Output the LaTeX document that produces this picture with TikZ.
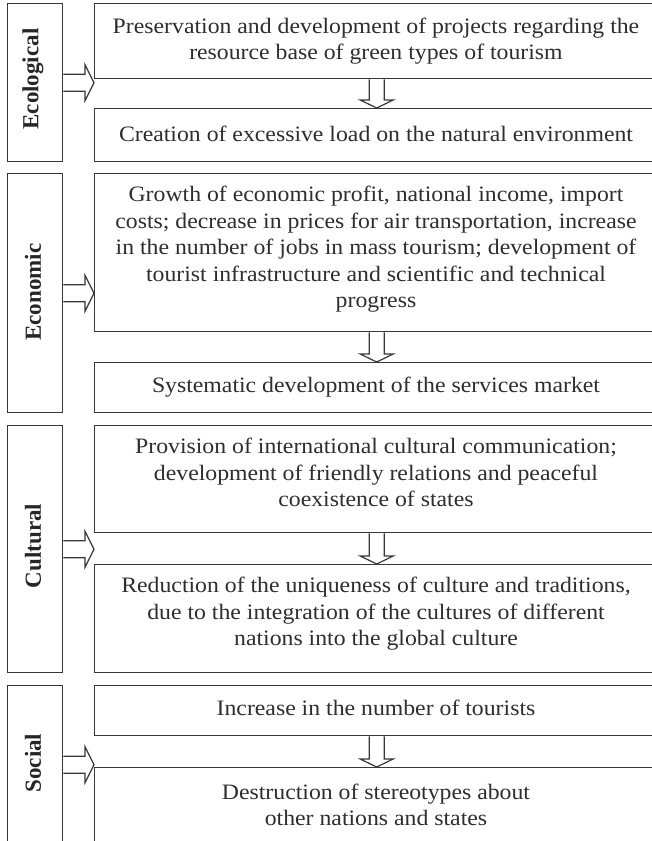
\documentclass[tikz,border=0pt]{standalone}
\usepackage{fontspec}
\setmainfont{Liberation Serif}
\newfontfamily\bodyfont[FakeStretch=1.08]{Liberation Serif}
\usetikzlibrary{calc}
\newcommand\rblock[2]{%
  \draw[barrow] ($(#1)+(0,-8.5)$) -- ($(#2)+(-9,-8.5)$) -- ($(#2)+(-9,-18)$) -- (#2)
    -- ($(#2)+(-9,18)$) -- ($(#2)+(-9,8.5)$) -- ($(#1)+(0,8.5)$);}
\newcommand\dblock[2]{%
  \draw[barrow] ($(#1)+(-7.5,0)$) -- ($(#2)+(-7.5,-8)$) -- ($(#2)+(-16.5,-8)$) -- (#2)
    -- ($(#2)+(16.5,-8)$) -- ($(#2)+(7.5,-8)$) -- ($(#1)+(7.5,0)$);}
\begin{document}
\begin{tikzpicture}[x=1pt,y=-1pt,
  box/.style={draw=black!78, line width=1.4pt, rectangle, inner sep=0, anchor=north west},
  txt/.style={font=\bodyfont\fontsize{22}{26.5}\selectfont, align=center, text=black!82, inner sep=0},
  lab/.style={font=\fontsize{23}{27}\selectfont\bfseries, rotate=90, text=black!85, inner sep=0},
  barrow/.style={draw=black!78, line width=1.2pt, fill=white, line join=miter}]
\useasboundingbox (0,0) rectangle (652,841);
\fill[white] (0,0) rectangle (652,841);
\begin{scope}
\clip (0,0) rectangle (652,841);
% label boxes
\node[box, minimum width=55pt, minimum height=158pt] (L1) at (7,3) {};
\node[box, minimum width=55pt, minimum height=239pt] (L2) at (7,173) {};
\node[box, minimum width=55pt, minimum height=247pt] (L3) at (7,425) {};
\node[box, minimum width=55pt, minimum height=158pt] (L4) at (7,685) {};
% content boxes
\node[box, minimum width=564pt, minimum height=75pt]  (B1) at (94,3) {};
\node[box, minimum width=564pt, minimum height=53pt]  (B2) at (94,108) {};
\node[box, minimum width=564pt, minimum height=158pt] (B3) at (94,173) {};
\node[box, minimum width=564pt, minimum height=50pt]  (B4) at (94,362) {};
\node[box, minimum width=564pt, minimum height=107pt] (B5) at (94,425) {};
\node[box, minimum width=564pt, minimum height=108pt] (B6) at (94,564) {};
\node[box, minimum width=564pt, minimum height=50pt]  (B7) at (94,685) {};
\node[box, minimum width=564pt, minimum height=83pt]  (B8) at (94,767) {};
% labels
\node[lab] (t1) at (33,79) {Ecological};
\node[lab] (t2) at (33,292) {Economic};
\node[lab] (t3) at (33,546) {Cultural};
\node[lab] (t4) at (33,763) {Social};
% texts
\node[txt] (x1) at (376,41) {Preservation and development of projects regarding the\\resource base of green types of tourism};
\node[txt] (x2) at (376,134) {Creation of excessive load on the natural environment};
\node[txt] (x3) at (376,249.5) {Growth of economic profit, national income, import\\costs; decrease in prices for air transportation, increase\\in the number of jobs in mass tourism; development of\\tourist infrastructure and scientific and technical\\progress};
\node[txt] (x4) at (376,387) {Systematic development of the services market};
\node[txt] (x5) at (376,472.5) {Provision of international cultural communication;\\development of friendly relations and peaceful\\coexistence of states};
\node[txt] (x6) at (376,614) {Reduction of the uniqueness of culture and traditions,\\due to the integration of the cultures of different\\nations into the global culture};
\node[txt] (x7) at (376,708) {Increase in the number of tourists};
\node[txt] (x8) at (376,805) {Destruction of stereotypes about\\other nations and states};
% connectors
\coordinate (e1) at (B1.west |- L1.east);
\coordinate (e2) at (B3.west |- L2.east);
\coordinate (e3) at (B5.west |- L3.east);
\coordinate (e4) at (B8.west |- L4.east);
\rblock{L1.east}{e1}
\rblock{L2.east}{e2}
\rblock{L3.east}{e3}
\rblock{L4.east}{e4}
\dblock{B1.south}{B2.north}
\dblock{B3.south}{B4.north}
\dblock{B5.south}{B6.north}
\dblock{B7.south}{B8.north}
\end{scope}
\end{tikzpicture}
\end{document}
